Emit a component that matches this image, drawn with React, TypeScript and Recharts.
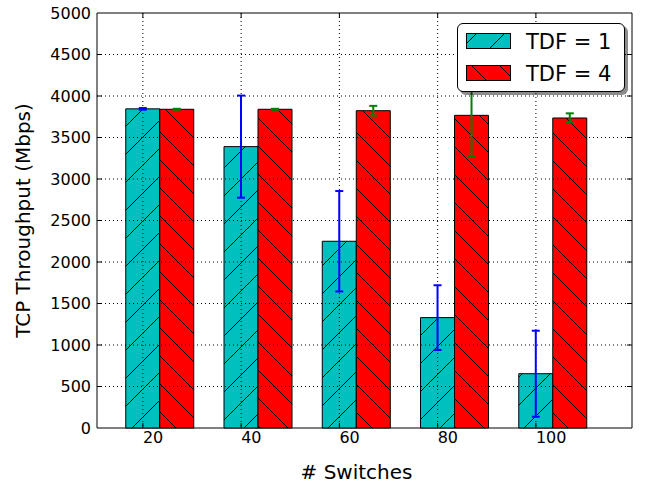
import React from "react";
import {
  BarChart,
  Bar,
  XAxis,
  YAxis,
  ErrorBar,
  ReferenceLine,
  ReferenceArea,
  Legend,
} from "recharts";

const switches = [20, 40, 60, 80, 100];
const tdf1Mean = [3845, 3390, 2250, 1330, 654];
const tdf1Err = [10, 615, 605, 390, 518];
const tdf4Mean = [3840, 3840, 3823, 3767, 3735];
const tdf4Err = [6, 6, 58, 494, 56];
const yTicks = [0, 500, 1000, 1500, 2000, 2500, 3000, 3500, 4000, 4500, 5000];
const seriesNames = ["TDF = 1", "TDF = 4"];

const FONT = "'DejaVu Sans', sans-serif";
const BAR_W = 34;
const TICK_LEN = 5;
const W = 648;
const H = 484;
const MARGIN = { top: 13, right: 16, bottom: 0, left: 0 };
const X_DOMAIN: [number, number] = [7.2, 116.1];

const data = switches.map((s, i) => ({
  switches: s,
  tdf1: tdf1Mean[i],
  tdf1Err: tdf1Err[i],
  tdf4: tdf4Mean[i],
  tdf4Err: tdf4Err[i],
}));

const Hatches = () => (
  <defs>
    <pattern id="hatchCyan" patternUnits="userSpaceOnUse" width={28} height={28}>
      <rect width={28} height={28} fill="#00bfbf" />
      <path d="M0,28 L28,0 M-2,2 L2,-2 M26,30 L30,26" stroke="#000" strokeWidth={1} />
    </pattern>
    <pattern id="hatchRed" patternUnits="userSpaceOnUse" width={28} height={28}>
      <rect width={28} height={28} fill="#ff0000" />
      <path d="M0,0 L28,28 M-2,26 L2,30 M26,-2 L30,2" stroke="#000" strokeWidth={1} />
    </pattern>
  </defs>
);

// dotted grid line with short inward ticks at both ends (matplotlib style)
const HGrid = (props: any) => {
  const { x1, y1, x2 } = props;
  return (
    <g>
      <line x1={x1} y1={y1} x2={x2} y2={y1} stroke="#000" strokeDasharray="1 3" />
      <line x1={x1} y1={y1} x2={x1 + TICK_LEN} y2={y1} stroke="#000" />
      <line x1={x2 - TICK_LEN} y1={y1} x2={x2} y2={y1} stroke="#000" />
    </g>
  );
};

// ticks sit on the first bar of each group
const VGrid = (props: any) => {
  const { x1, y1, y2 } = props;
  const x = x1 - BAR_W / 2;
  const top = Math.min(y1, y2);
  const bottom = Math.max(y1, y2);
  return (
    <g>
      <line x1={x} y1={top} x2={x} y2={bottom} stroke="#000" strokeDasharray="1 3" />
      <line x1={x} y1={top} x2={x} y2={top + TICK_LEN} stroke="#000" />
      <line x1={x} y1={bottom - TICK_LEN} x2={x} y2={bottom} stroke="#000" />
    </g>
  );
};

const XTick = (props: any) => {
  const { x, y, payload } = props;
  return (
    <text
      x={x - BAR_W / 2}
      y={y}
      dy="0.71em"
      textAnchor="start"
      fontFamily={FONT}
      fontSize={16}
      fill="#000"
    >
      {payload.value}
    </text>
  );
};

const LegendBox = () => {
  const fills = ["url(#hatchCyan)", "url(#hatchRed)"];
  return (
    <div
      style={{
        width: 168,
        height: 69,
        boxSizing: "border-box",
        border: "1px solid #000",
        borderRadius: 6,
        background: "#fff",
        boxShadow: "3px 3px 0 rgba(0,0,0,0.45)",
      }}
    >
      <svg width={166} height={67} style={{ display: "block" }}>
        {seriesNames.map((name, i) => (
          <g key={name}>
            <rect
              x={8.5}
              y={9.5 + i * 32}
              width={44}
              height={15}
              fill={fills[i]}
              stroke="#000"
            />
            <text x={68} y={24.5 + i * 32} fontFamily={FONT} fontSize={21} fill="#000">
              {name}
            </text>
          </g>
        ))}
      </svg>
    </div>
  );
};

// base layer: bars + grid + frame
const BaseLayer = () => (
  <BarChart width={W} height={H} data={data} margin={MARGIN} barSize={BAR_W} barGap={0}>
    <Hatches />
    <XAxis
      dataKey="switches"
      type="number"
      domain={X_DOMAIN}
      ticks={switches}
      height={56}
      axisLine={false}
      tickLine={false}
      tickSize={6}
      tickMargin={-2}
      tick={<XTick />}
      label={{
        value: "# Switches",
        position: "insideBottom",
        offset: 5,
        dx: -8,
        style: { fontFamily: FONT, fontSize: 20, fill: "#000" },
      }}
    />
    <YAxis
      domain={[0, 5000]}
      ticks={yTicks}
      width={97}
      axisLine={false}
      tickLine={false}
      tickSize={6}
      tickMargin={0}
      tick={{ fontFamily: FONT, fontSize: 16, fill: "#000" }}
      label={{
        value: "TCP Throughput (Mbps)",
        angle: -90,
        position: "insideLeft",
        offset: 23,
        style: { textAnchor: "middle", fontFamily: FONT, fontSize: 20, fill: "#000" },
      }}
    />
    <Bar dataKey="tdf1" fill="url(#hatchCyan)" stroke="#000" strokeWidth={1} isAnimationActive={false} />
    <Bar dataKey="tdf4" fill="url(#hatchRed)" stroke="#000" strokeWidth={1} isAnimationActive={false} />
    {yTicks.slice(1, -1).map((v) => (
      <ReferenceLine key={`h${v}`} y={v} shape={<HGrid />} />
    ))}
    {switches.map((v) => (
      <ReferenceLine key={`v${v}`} x={v} shape={<VGrid />} />
    ))}
    <ReferenceArea y1={0} y2={5000} fill="none" stroke="#000" strokeWidth={1} ifOverflow="visible" />
  </BarChart>
);

// top layer: error bars drawn over the grid, legend over everything
const ErrorLayer = () => (
  <BarChart width={W} height={H} data={data} margin={MARGIN} barSize={BAR_W} barGap={0}>
    <XAxis
      dataKey="switches"
      type="number"
      domain={X_DOMAIN}
      ticks={switches}
      height={56}
      axisLine={false}
      tickLine={false}
      tick={false}
    />
    <YAxis domain={[0, 5000]} ticks={yTicks} width={97} axisLine={false} tickLine={false} tick={false} />
    <Bar dataKey="tdf1" name={seriesNames[0]} fill="none" stroke="none" isAnimationActive={false}>
      <ErrorBar dataKey="tdf1Err" width={4} stroke="#0000ff" strokeWidth={2} isAnimationActive={false} />
    </Bar>
    <Bar dataKey="tdf4" name={seriesNames[1]} fill="none" stroke="none" isAnimationActive={false}>
      <ErrorBar dataKey="tdf4Err" width={4} stroke="#008000" strokeWidth={2} isAnimationActive={false} />
    </Bar>
    <Legend
      layout="vertical"
      align="center"
      verticalAlign="middle"
      content={<LegendBox />}
      wrapperStyle={{ top: 23, left: 457, width: 168, height: 69 }}
    />
  </BarChart>
);

const App = () => {
  return (
    <div style={{ position: "absolute", left: 0, top: 0, width: W, height: H, background: "#fff" }}>
      <div style={{ position: "absolute", left: 0, top: 0 }}>
        <BaseLayer />
      </div>
      <div style={{ position: "absolute", left: 0, top: 0, pointerEvents: "none" }}>
        <ErrorLayer />
      </div>
    </div>
  );
};

export default App;
